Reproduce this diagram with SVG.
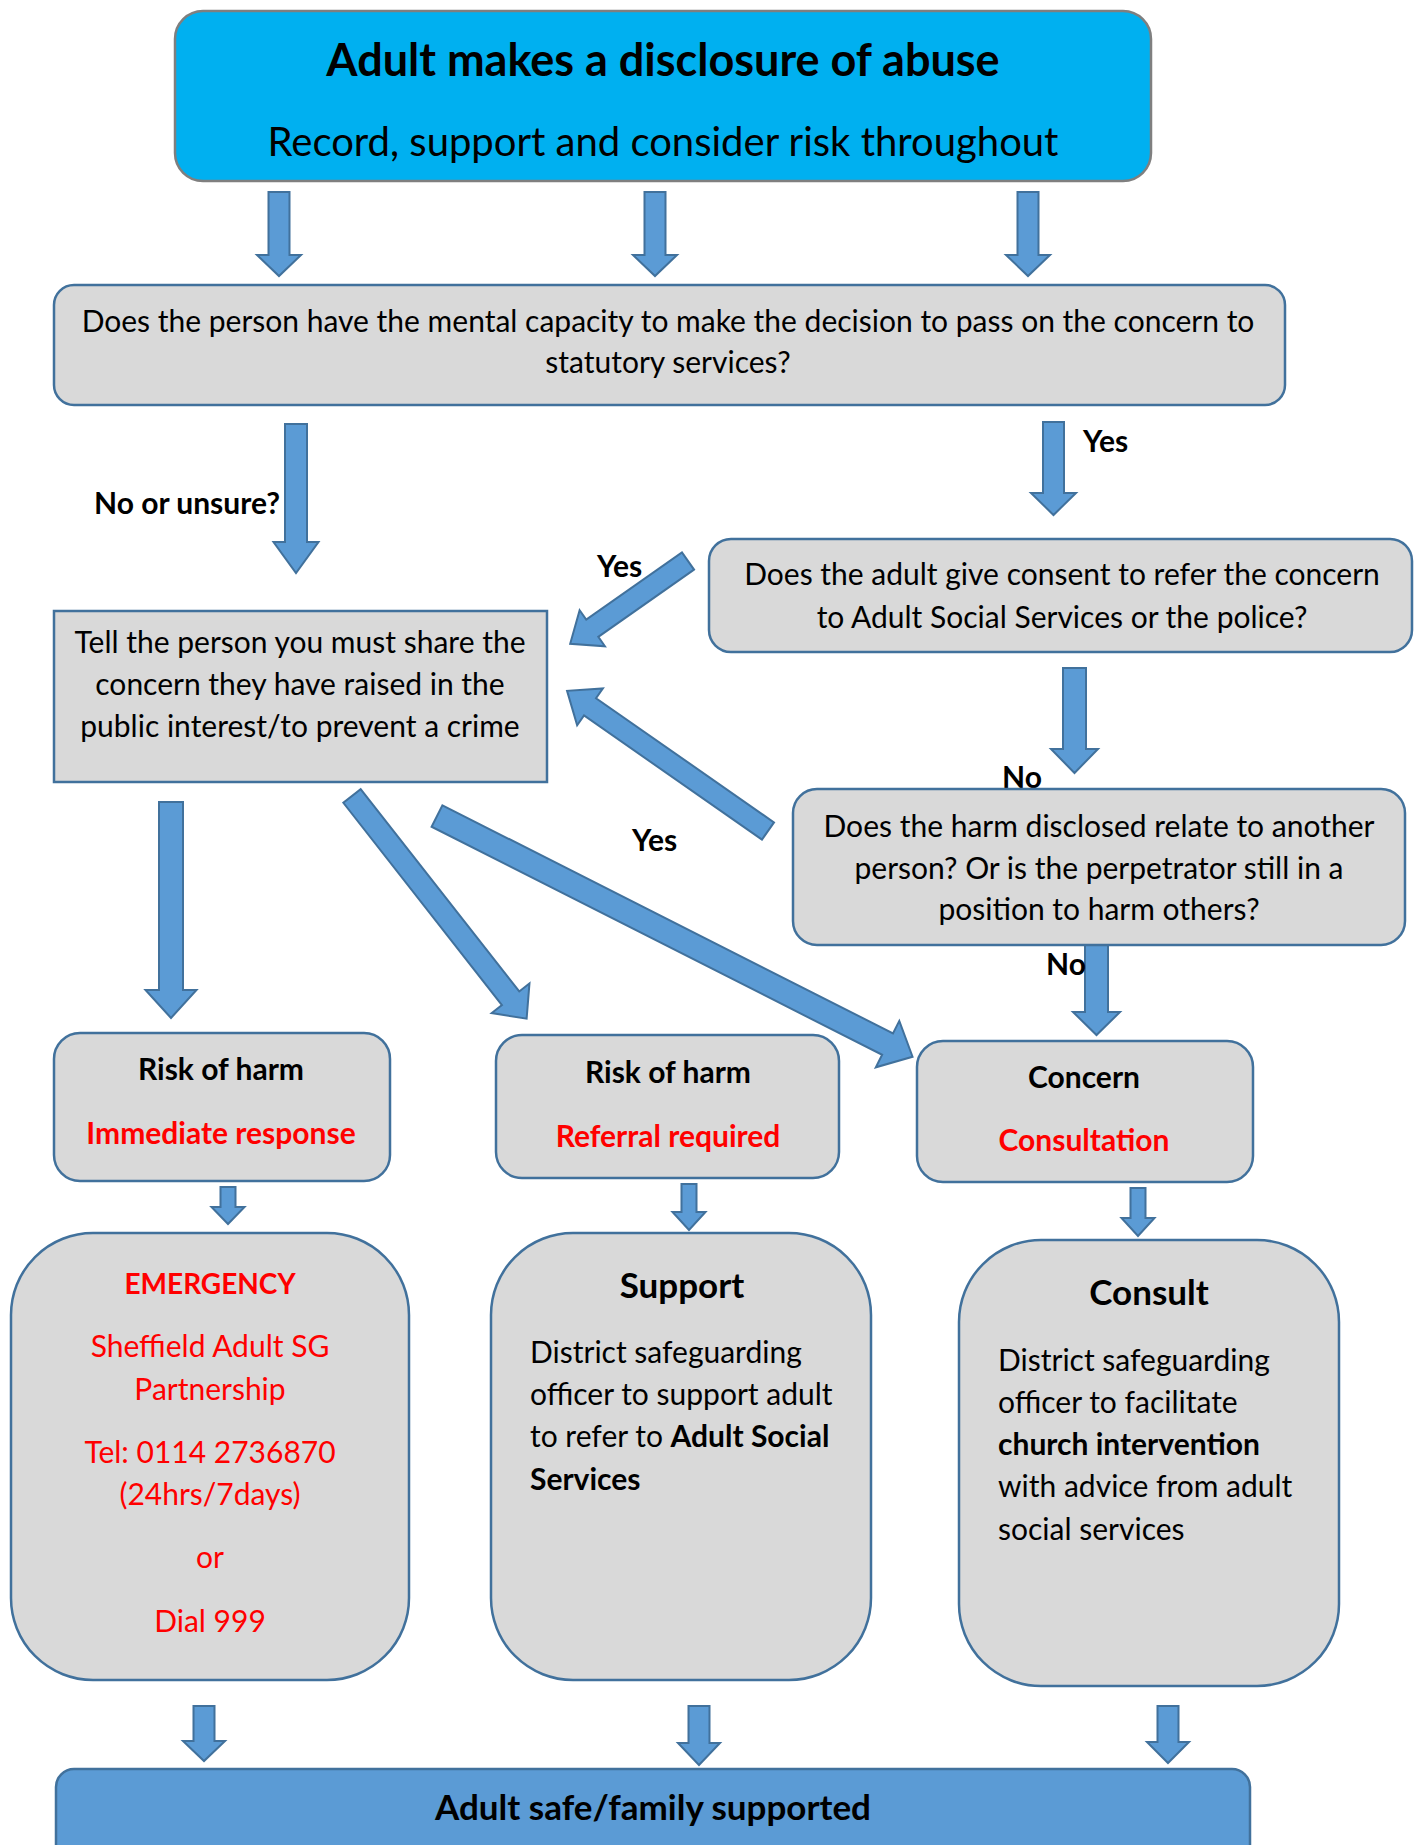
<svg xmlns="http://www.w3.org/2000/svg" width="1414" height="1845" viewBox="0 0 1414 1845">
<style>
.box{fill:#D9D9D9;stroke:#41719C;stroke-width:2.5}
.top{fill:#00B0F0;stroke:#7F7F7F;stroke-width:2.5}
.bot{fill:#5B9BD5;stroke:#41719C;stroke-width:2.5}
.arr{fill:#5B9BD5;stroke:#41719C;stroke-width:2;stroke-linejoin:miter}
text{font-family:Lato,"Liberation Sans",sans-serif;fill:#000}
.t{font-size:30px}
.c{text-anchor:middle}
.b{font-weight:bold}
.red{fill:#FF0000}
.lbl{font-size:30px;font-weight:bold}
</style>
<rect width="1414" height="1845" fill="#FFFFFF"/>

<g id="connectors">
  <polygon class="arr" points="268.5,192 289.5,192 289.5,255 301,255 279,276 257,255 268.5,255"/>
  <polygon class="arr" points="644.5,192 665.5,192 665.5,255 677,255 655,276 633,255 644.5,255"/>
  <polygon class="arr" points="1017.5,192 1038.5,192 1038.5,255 1050,255 1028,276 1006,255 1017.5,255"/>
  <polygon class="arr" points="285,424 307,424 307,542 318.5,542 296,573 273.5,542 285,542"/>
  <polygon class="arr" points="1043,422 1064,422 1064,493 1076,493 1053.5,515 1031,493 1043,493"/>
  <g transform="translate(688,561) rotate(144.9)"><polygon class="arr" points="0,-10.5 117,-10.5 117,-22 144,0 117,22 117,10.5 0,10.5"/></g>
  <polygon class="arr" points="1063,668 1086,668 1086,749 1098,749 1074.5,773 1051,749 1063,749"/>
  <g transform="translate(768,831) rotate(-145.1)"><polygon class="arr" points="0,-10.5 217,-10.5 217,-22.5 245,0 217,22.5 217,10.5 0,10.5"/></g>
  <polygon class="arr" points="1085,945 1108,945 1108,1012 1120,1012 1096.5,1035 1073,1012 1085,1012"/>
  <polygon class="arr" points="159,802 183,802 183,990 196.5,990 171,1018 145.5,990 159,990"/>
  <g transform="translate(352,796) rotate(51.9)"><polygon class="arr" points="0,-11 257,-11 257,-24 283,0 257,24 257,11 0,11"/></g>
  <g transform="translate(437,816) rotate(26.85)"><polygon class="arr" points="0,-12 505,-12 505,-26 533,0 505,26 505,12 0,12"/></g>
  <polygon class="arr" points="220.5,1187 235.5,1187 235.5,1207 244.5,1207 228,1224 211.5,1207 220.5,1207"/>
  <polygon class="arr" points="681.5,1184 696.5,1184 696.5,1212 705.5,1212 689,1230 672.5,1212 681.5,1212"/>
  <polygon class="arr" points="1130.5,1188 1145.5,1188 1145.5,1218 1154.5,1218 1138,1236 1121.5,1218 1130.5,1218"/>
  <polygon class="arr" points="193.5,1706 214.5,1706 214.5,1741 225,1741 204,1761 183,1741 193.5,1741"/>
  <polygon class="arr" points="688.5,1706 709.5,1706 709.5,1743 720,1743 699,1765 678,1743 688.5,1743"/>
  <polygon class="arr" points="1157.5,1706 1178.5,1706 1178.5,1742 1189,1742 1168,1763 1147,1742 1157.5,1742"/>
  <text class="lbl" x="94" y="514">No or unsure?</text>
  <text class="lbl" x="1083" y="452">Yes</text>
  <text class="lbl" x="597" y="577">Yes</text>
  <text class="lbl" x="1002" y="788">No</text>
  <text class="lbl" x="632" y="851">Yes</text>
  <text class="lbl" x="1046" y="975">No</text>
</g>

<g id="n-disclosure">
  <rect class="top" x="175" y="11" width="976" height="170" rx="28"/>
  <text class="c b" x="663" y="76" font-size="45">Adult makes a disclosure of abuse</text>
  <text class="c" x="663" y="156" font-size="40">Record, support and consider risk throughout</text>
</g>

<g id="n-capacity">
  <rect class="box" x="54" y="285" width="1231" height="120" rx="20"/>
  <text class="t c" x="668" y="332">Does the person have the mental capacity to make the decision to pass on the concern to</text>
  <text class="t c" x="668" y="373">statutory services?</text>
</g>

<g id="n-consent">
  <rect class="box" x="709" y="539" width="703" height="113" rx="22"/>
  <text class="t c" x="1062" y="585">Does the adult give consent to refer the concern</text>
  <text class="t c" x="1062" y="628">to Adult Social Services or the police?</text>
</g>

<g id="n-tell">
  <rect class="box" x="54" y="611" width="493" height="171"/>
  <text class="t c" x="300" y="653">Tell the person you must share the</text>
  <text class="t c" x="300" y="695">concern they have raised in the</text>
  <text class="t c" x="300" y="737">public interest/to prevent a crime</text>
</g>

<g id="n-harm">
  <rect class="box" x="793" y="789" width="612" height="156" rx="24"/>
  <text class="t c" x="1099" y="837">Does the harm disclosed relate to another</text>
  <text class="t c" x="1099" y="879">person? Or is the perpetrator still in a</text>
  <text class="t c" x="1099" y="920">position to harm others?</text>
</g>

<g id="n-risk-immediate">
  <rect class="box" x="54" y="1033" width="336" height="148" rx="26"/>
  <text class="c b" x="221" y="1080" font-size="30">Risk of harm</text>
  <text class="c b red" x="221" y="1144" font-size="30">Immediate response</text>
</g>

<g id="n-risk-referral">
  <rect class="box" x="496" y="1035" width="343" height="143" rx="26"/>
  <text class="c b" x="668" y="1083" font-size="30">Risk of harm</text>
  <text class="c b red" x="668" y="1147" font-size="30">Referral required</text>
</g>

<g id="n-concern">
  <rect class="box" x="917" y="1041" width="336" height="141" rx="26"/>
  <text class="c b" x="1084" y="1088" font-size="30">Concern</text>
  <text class="c b red" x="1084" y="1151" font-size="30">Consultation</text>
</g>

<g id="n-emergency">
  <rect class="box" x="11" y="1233" width="398" height="447" rx="82"/>
  <text class="c b red" x="210" y="1294" font-size="28">EMERGENCY</text>
  <text class="t c red" x="210" y="1357">Sheffield Adult SG</text>
  <text class="t c red" x="210" y="1400">Partnership</text>
  <text class="t c red" x="210" y="1463">Tel: 0114 2736870</text>
  <text class="t c red" x="210" y="1505">(24hrs/7days)</text>
  <text class="t c red" x="210" y="1568">or</text>
  <text class="t c red" x="210" y="1632">Dial 999</text>
</g>

<g id="n-support">
  <rect class="box" x="491" y="1233" width="380" height="447" rx="82"/>
  <text class="c b" x="682" y="1298" font-size="35">Support</text>
  <text class="t" x="530" y="1363">District safeguarding</text>
  <text class="t" x="530" y="1405">officer to support adult</text>
  <text class="t" x="530" y="1447">to refer to <tspan class="b">Adult Social</tspan></text>
  <text class="t b" x="530" y="1490">Services</text>
</g>

<g id="n-consult">
  <rect class="box" x="959" y="1240" width="380" height="446" rx="82"/>
  <text class="c b" x="1149" y="1305" font-size="35">Consult</text>
  <text class="t" x="998" y="1371">District safeguarding</text>
  <text class="t" x="998" y="1413">officer to facilitate</text>
  <text class="t b" x="998" y="1455">church intervention</text>
  <text class="t" x="998" y="1497">with advice from adult</text>
  <text class="t" x="998" y="1540">social services</text>
</g>

<g id="n-safe">
  <rect class="bot" x="56" y="1769" width="1194" height="100" rx="18"/>
  <text class="c b" x="653" y="1820" font-size="35">Adult safe/family supported</text>
</g>
</svg>
